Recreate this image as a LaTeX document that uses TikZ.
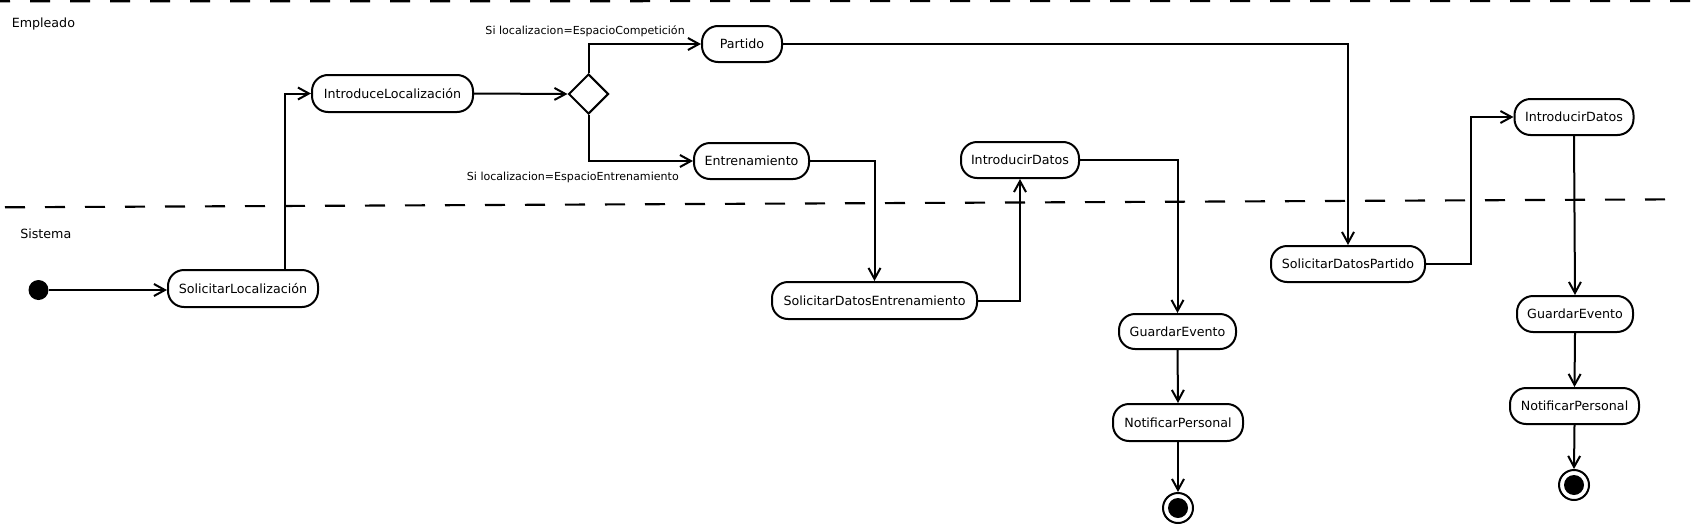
\documentclass[tikz,border=0pt]{standalone}
\usepackage{fontspec}
\setmainfont{DejaVu Sans}
\usetikzlibrary{arrows.meta,shapes.geometric}
\begin{document}
\begin{tikzpicture}[x=0.75pt,y=-0.75pt,
  act/.style={draw,line width=1.5pt,rounded corners=12pt,inner sep=0pt,
    font=\fontsize{9.5pt}{11pt}\selectfont,align=center},
  flow/.style={line width=1.5pt,-{Straight Barb[length=8.25pt,width=9pt]}},
  guard/.style={font=\fontsize{8.3pt}{10pt}\selectfont,inner sep=0pt},
  lane/.style={font=\fontsize{9.5pt}{11pt}\selectfont,inner sep=0pt},
  swim/.style={line width=1.6pt,dash pattern=on 15pt off 15pt},
  initst/.style={circle,fill=black,inner sep=0pt,minimum size=15pt},
  finalst/.style={circle,draw,line width=1.5pt,inner sep=0pt,minimum size=22.5pt,
    path picture={\fill[black] (path picture bounding box.center) circle (7.5pt);}}
]
\useasboundingbox (0,0) rectangle (1699,525);
% swimlane separators
\draw[swim,line width=1.8pt,dash phase=7.5pt] (0,1.2) -- (1699,0.8);
\draw[swim] (5,207.3) -- (1683,199.3);
\node[lane,anchor=base west] (emp) at (11.5,27.3) {Empleado};
\node[lane,anchor=base west] (sis) at (20,238) {Sistema};
% nodes
\node[initst] (init) at (38.5,290) {};
\node[act,minimum width=112.5pt,minimum height=27.75pt] (sl) at (243,288.5) {SolicitarLocalización};
\node[act,minimum width=120.75pt,minimum height=27.75pt] (il) at (392.5,93.5) {IntroduceLocalización};
\node[draw,diamond,line width=1.5pt,inner sep=0pt,minimum width=30pt,minimum height=30pt] (dec) at (588.5,94) {};
\node[act,minimum width=60pt,minimum height=27pt] (pa) at (742,44) {Partido};
\node[act,minimum width=86.25pt,minimum height=27pt] (en) at (751.5,161) {Entrenamiento};
\node[act,minimum width=153.75pt,minimum height=27.75pt] (sde) at (874.5,300.5) {SolicitarDatosEntrenamiento};
\node[act,minimum width=88.5pt,minimum height=27pt] (id1) at (1020,160) {IntroducirDatos};
\node[act,minimum width=87.75pt,minimum height=26.25pt] (ge1) at (1177.5,331.5) {GuardarEvento};
\node[act,minimum width=97.5pt,minimum height=27.75pt] (np1) at (1178,422.5) {NotificarPersonal};
\node[finalst] (f1) at (1178,508) {};
\node[act,minimum width=115.5pt,minimum height=27pt] (sdp) at (1348,264) {SolicitarDatosPartido};
\node[act,minimum width=89.25pt,minimum height=27pt] (id2) at (1574,117) {IntroducirDatos};
\node[act,minimum width=87pt,minimum height=27pt] (ge2) at (1575,314) {GuardarEvento};
\node[act,minimum width=96.75pt,minimum height=27pt] (np2) at (1574.5,406) {NotificarPersonal};
\node[finalst] (f2) at (1574,485) {};
% guards
\node[guard,anchor=base east] (g1) at (685,34.3) {Si localizacion=EspacioCompetición};
\node[guard,anchor=base east] (g2) at (679,180) {Si localizacion=EspacioEntrenamiento};
% connectors
\draw[flow] (init.east) -- (init.east -| sl.west);
\draw[flow] ([xshift=31.5pt]sl.north) |- (il.west);
\draw[flow] (il.east) -- (dec.west);
\draw[flow] (dec.north) |- (pa.west);
\draw[flow] (dec.south) |- (en.west);
\draw[flow] (pa.east) -| (sdp.north);
\draw[flow] (en.east) -| (sde.north);
\draw[flow] (sde.east) -| (id1.south);
\draw[flow] (id1.east) -| (ge1.north);
\draw[flow] (ge1.south) -- (np1.north);
\draw[flow] (np1.south) -- (f1.north);
\draw[flow] (sdp.east) -- ([xshift=33.75pt]sdp.east) |- (id2.west);
\draw[flow] (id2.south) -- (ge2.north);
\draw[flow] (ge2.south) -- (np2.north);
\draw[flow] (np2.south) -- (f2.north);
\end{tikzpicture}
\end{document}
